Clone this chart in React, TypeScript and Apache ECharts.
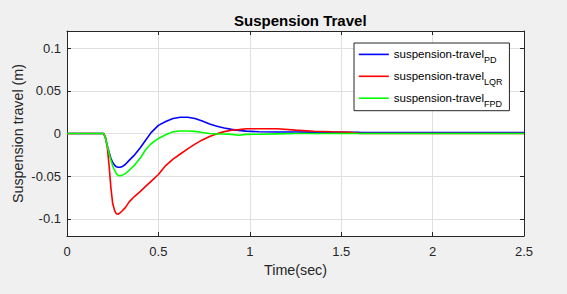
import React, { useEffect, useRef } from "react";
import * as echarts from "echarts";

const time = [0, 0.2, 0.21, 0.22, 0.23, 0.24, 0.25, 0.26, 0.27, 0.28, 0.29, 0.3, 0.32, 0.34, 0.37, 0.4, 0.43, 0.46, 0.5, 0.54, 0.58, 0.62, 0.66, 0.7, 0.74, 0.78, 0.82, 0.86, 0.9, 0.94, 0.98, 1.05, 1.15, 1.25, 1.35, 1.45, 1.55, 1.6, 2.0, 2.5];
const pdTravel = [0, 0, -0.005, -0.014, -0.022, -0.029, -0.034, -0.037, -0.039, -0.0395, -0.0395, -0.039, -0.036, -0.0315, -0.025, -0.017, -0.008, 0.001, 0.0095, 0.014, 0.0175, 0.019, 0.019, 0.0175, 0.0145, 0.011, 0.0085, 0.0065, 0.0048, 0.0037, 0.0028, 0.002, 0.0018, 0.0017, 0.0016, 0.0015, 0.0014, 0.0013, 0.0012, 0.0012];
const lqrTravel = [0, 0, -0.004, -0.015, -0.037, -0.063, -0.082, -0.09, -0.094, -0.0945, -0.093, -0.091, -0.0865, -0.08, -0.0735, -0.068, -0.062, -0.056, -0.048, -0.0375, -0.03, -0.024, -0.018, -0.0125, -0.0075, -0.0035, -0.0004, 0.0022, 0.0038, 0.0045, 0.0055, 0.0055, 0.0055, 0.004, 0.0026, 0.002, 0.0015, 0, 0, 0];
const fpdTravel = [0, 0, -0.005, -0.014, -0.023, -0.031, -0.038, -0.043, -0.047, -0.049, -0.0495, -0.049, -0.047, -0.043, -0.037, -0.029, -0.019, -0.012, -0.0058, -0.0015, 0.002, 0.003, 0.003, 0.0025, 0.0012, 0, -0.0005, -0.0006, -0.001, -0.002, -0.001, -0.0008, -0.0004, 0, 0, 0, 0, 0, 0, 0];

const seriesNames = ["PD", "LQR", "FPD"];
const seriesColors = ["#0000ff", "#ff0000", "#00ff00"];
const seriesValues = [pdTravel, lqrTravel, fpdTravel];

const FONT = "'Liberation Sans', Arial, Helvetica, sans-serif";
const AXIS_COLOR = "#262626";

export default function App() {
  const ref = useRef<HTMLDivElement>(null);
  useEffect(() => {
    if (!ref.current) return;
    const chart = echarts.init(ref.current, null, { renderer: "svg" });
    const secondaryAxisCommon = {
      axisLine: { show: true, onZero: false, lineStyle: { color: AXIS_COLOR, width: 1 } },
      axisTick: { show: true, inside: true, length: 4, lineStyle: { color: AXIS_COLOR } },
      axisLabel: { show: false },
      splitLine: { show: false },
    };
    chart.setOption({
      animation: false,
      backgroundColor: "#f0f0f0",
      textStyle: { fontFamily: FONT },
      title: {
        text: "Suspension Travel",
        left: 229,
        top: 8,
        textStyle: { fontFamily: FONT, fontSize: 15, fontWeight: "bold", color: "#000" },
      },
      grid: {
        left: 67,
        right: 43,
        top: 31,
        bottom: 58,
        show: true,
        backgroundColor: "#ffffff",
        borderWidth: 0,
      },
      legend: {
        orient: "vertical",
        left: 354,
        top: 43,
        padding: [3, 7, 2, 4],
        itemGap: 3,
        itemWidth: 30,
        itemHeight: 21,
        backgroundColor: "#ffffff",
        borderColor: AXIS_COLOR,
        borderWidth: 1,
        borderRadius: 0,
        itemStyle: { opacity: 0 },
        lineStyle: { width: 1.6 },
        data: seriesNames,
        formatter: (name: string) => `{m|suspension-travel}{s|${name}}`,
        textStyle: {
          fontFamily: FONT,
          rich: {
            m: { fontFamily: FONT, fontSize: 11.5, lineHeight: 21, verticalAlign: "middle", color: "#000" },
            s: { fontFamily: FONT, fontSize: 9, lineHeight: 9, verticalAlign: "bottom", color: "#000" },
          },
        },
      },
      xAxis: [
        {
          type: "value",
          min: 0,
          max: 2.5,
          interval: 0.5,
          name: "Time(sec)",
          nameLocation: "middle",
          nameGap: 27,
          nameMoveOverlap: false,
          nameTextStyle: { fontFamily: FONT, fontSize: 14.3, color: AXIS_COLOR },
          axisLine: { show: true, onZero: false, lineStyle: { color: AXIS_COLOR, width: 1 } },
          axisTick: { show: true, inside: true, length: 4, lineStyle: { color: AXIS_COLOR } },
          axisLabel: { fontFamily: FONT, fontSize: 13, color: AXIS_COLOR, margin: 9 },
          splitLine: { show: true, lineStyle: { color: "#dfdfdf", width: 1 } },
        },
        { type: "value", position: "top", min: 0, max: 2.5, interval: 0.5, ...secondaryAxisCommon },
      ],
      yAxis: [
        {
          type: "value",
          min: -0.12,
          max: 0.12,
          splitNumber: 5,
          name: "Suspension travel (m)",
          nameLocation: "middle",
          nameGap: 42,
          nameMoveOverlap: false,
          nameTextStyle: { fontFamily: FONT, fontSize: 14.3, color: AXIS_COLOR },
          axisLine: { show: true, onZero: false, lineStyle: { color: AXIS_COLOR, width: 1 } },
          axisTick: { show: true, inside: true, length: 4, lineStyle: { color: AXIS_COLOR } },
          axisLabel: { fontFamily: FONT, fontSize: 13, color: AXIS_COLOR, margin: 6, showMinLabel: false, showMaxLabel: false },
          splitLine: { show: true, lineStyle: { color: "#dfdfdf", width: 1 } },
        },
        { type: "value", position: "right", min: -0.12, max: 0.12, splitNumber: 5, ...secondaryAxisCommon },
      ],
      series: seriesNames.map((name, i) => ({
        name,
        type: "line",
        xAxisIndex: 0,
        yAxisIndex: 0,
        symbol: "none",
        color: seriesColors[i],
        lineStyle: { color: seriesColors[i], width: 1.6 },
        data: time.map((t, j) => [t, seriesValues[i][j]]),
      })),
    });
    return () => chart.dispose();
  }, []);
  return (
    <div
      ref={ref}
      style={{ position: "fixed", left: 0, top: 0, width: 567, height: 294, background: "#f0f0f0" }}
    />
  );
}
